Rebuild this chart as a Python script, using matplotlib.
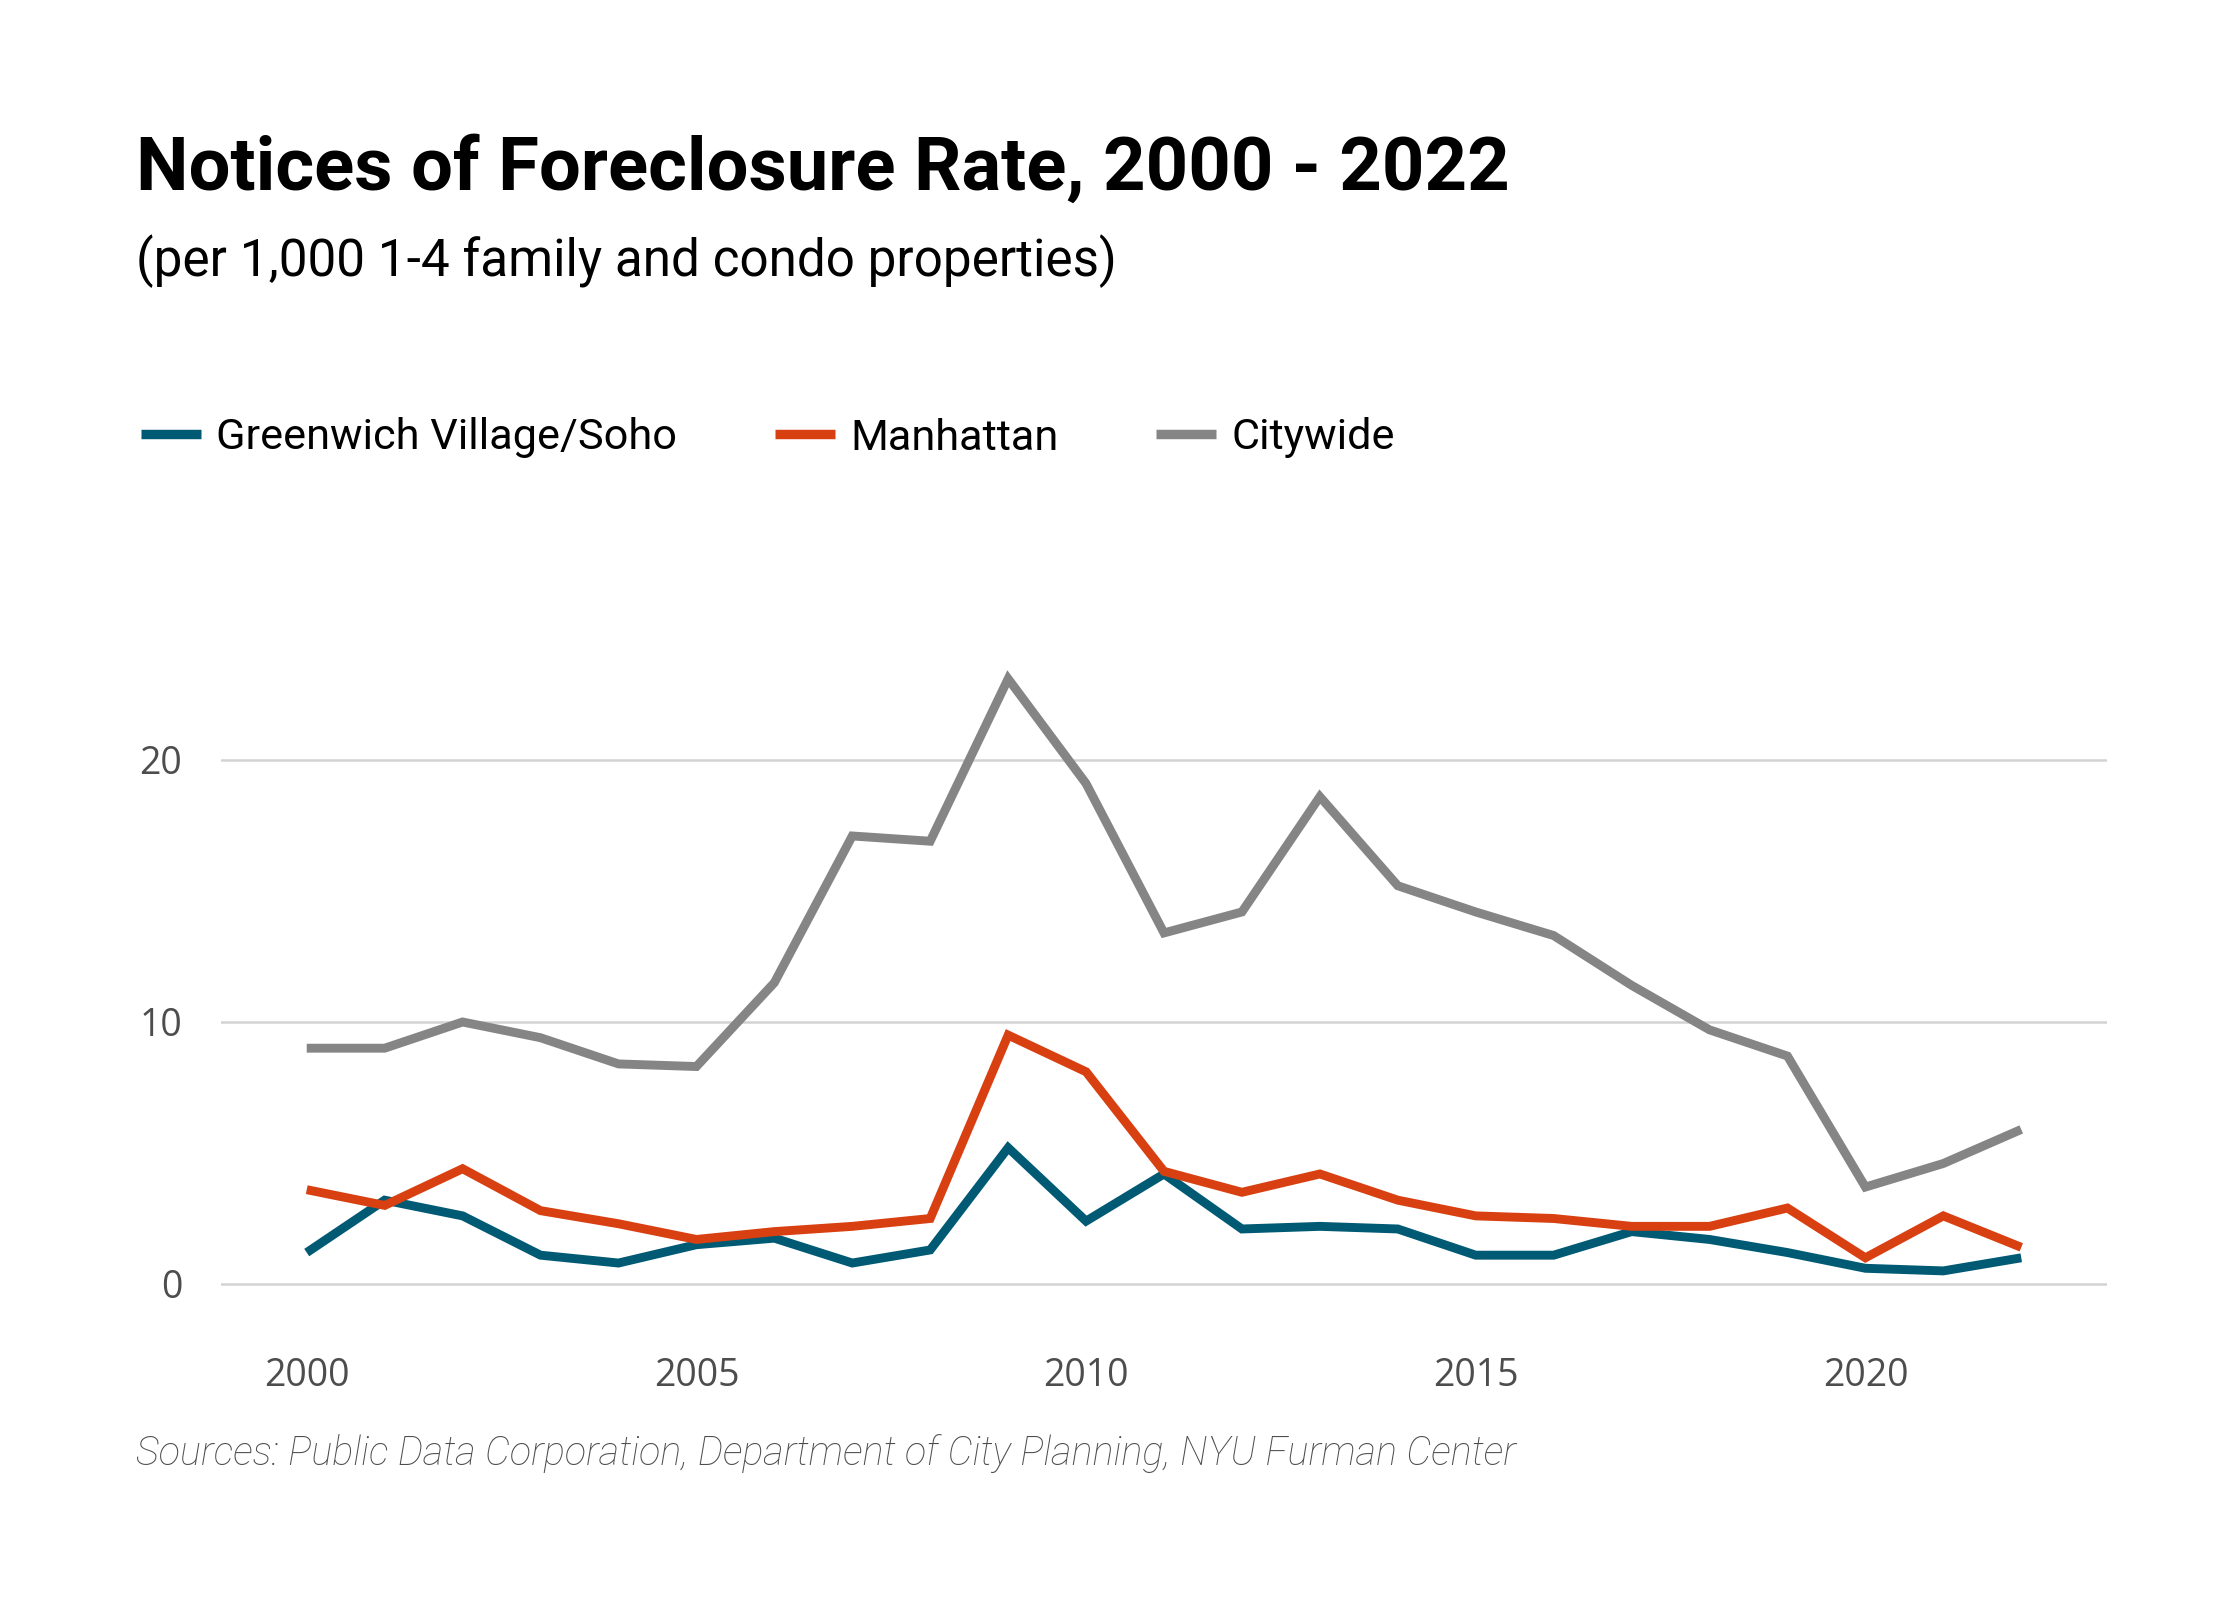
import matplotlib
matplotlib.use("Agg")
import matplotlib.pyplot as plt
from matplotlib import font_manager

# data
years = list(range(2000, 2023))
greenwich = [1.2, 3.2, 2.6, 1.1, 0.8, 1.5, 1.75, 0.8, 1.3, 5.2, 2.4, 4.2,
             2.1, 2.2, 2.1, 1.1, 1.1, 2.0, 1.7, 1.2, 0.6, 0.5, 1.0]
manhattan = [3.6, 3.0, 4.4, 2.8, 2.3, 1.7, 2.0, 2.2, 2.5, 9.5, 8.1, 4.3,
             3.5, 4.2, 3.2, 2.6, 2.5, 2.2, 2.2, 2.9, 1.0, 2.6, 1.4]
citywide = [9.0, 9.0, 10.0, 9.4, 8.4, 8.3, 11.5, 17.1, 16.9, 23.1, 19.1, 13.4,
            14.2, 18.6, 15.2, 14.2, 13.3, 11.4, 9.7, 8.7, 3.7, 4.6, 5.9]

series_names = ["Greenwich Village/Soho", "Manhattan", "Citywide"]
series_colors = ["#005a74", "#d84012", "#858585"]
x_ticks = [2000, 2005, 2010, 2015, 2020]
y_ticks = [0, 10, 20]

title = "Notices of Foreclosure Rate, 2000 - 2022"
subtitle = "(per 1,000 1-4 family and condo properties)"
source = "Sources: Public Data Corporation, Department of City Planning, NYU Furman Center"

installed = {f.name for f in font_manager.fontManager.ttflist}
COND = "Liberation Sans Narrow" if "Liberation Sans Narrow" in installed else "Roboto"

W, H = 2240, 1600
fig = plt.figure(figsize=(11.2, 8), dpi=200, facecolor="white")
renderer = fig.canvas.get_renderer()


def fit_width(txt, width_px):
    w = txt.get_window_extent(renderer).width
    txt.set_fontsize(txt.get_fontsize() * width_px / w)
    return txt


# axes: 0 gridline at y=1284 px, 26.2 px per unit, ylim -1..25
unit = 26.2
ax_left, ax_right = 221, 2107
ax_bottom, ax_top = 1284 + unit, 1284 - 25 * unit
ax = fig.add_axes([ax_left / W, 1 - ax_bottom / H,
                   (ax_right - ax_left) / W, (ax_bottom - ax_top) / H])

lines = []
for vals, name, col in zip([greenwich, manhattan, citywide], series_names, series_colors):
    ln, = ax.plot(years, vals, color=col, lw=3.2, label=name,
                  solid_joinstyle="miter", solid_capstyle="butt", zorder=3)
    lines.append(ln)

ax.set_xlim(1998.9, 2023.1)
ax.set_ylim(-1, 25)
ax.set_xticks(x_ticks)
ax.set_yticks(y_ticks)
ax.grid(axis="y", color="#d3d3d3", lw=0.9)
ax.set_axisbelow(True)
for sp in ax.spines.values():
    sp.set_visible(False)
ax.tick_params(length=0, labelsize=13.5, labelcolor="#4d4d4d")
ax.tick_params(axis="y", pad=14)
ax.tick_params(axis="x", pad=17)
for lab in ax.get_xticklabels() + ax.get_yticklabels():
    lab.set_family("Open Sans")

# title block
t = fig.text(136 / W, 1 - 190 / H, title, fontsize=24, fontweight="bold",
             family=COND, va="baseline", ha="left", color="black")
fit_width(t, 1373)
s = fig.text(136 / W, 1 - 276 / H, subtitle, fontsize=18,
             family=COND, va="baseline", ha="left", color="black")
fit_width(s, 982)

# legend
probe = fig.text(0, 0, series_names[0], fontsize=14, family=COND)
fit_width(probe, 460)
leg_fs = probe.get_fontsize()
probe.remove()
pt = 200 / 72
leg = fig.legend(handles=lines, loc="center left", ncol=3, frameon=False,
                 bbox_to_anchor=(141 / W, 1 - 438 / H),
                 prop={"family": COND, "size": leg_fs},
                 handlelength=60 / pt / leg_fs, handletextpad=15 / pt / leg_fs,
                 columnspacing=98 / pt / leg_fs, borderpad=0, borderaxespad=0)
for h in leg.get_lines():
    h.set_linewidth(3.4)

# sources note
src = fig.text(136 / W, 1 - 1465 / H, source, fontsize=12, style="italic",
               fontweight="light", family="Roboto", color="#4d4d4d",
               va="baseline", ha="left")
fit_width(src, 1387)

fig.savefig("out.png", dpi=200, facecolor="white")
